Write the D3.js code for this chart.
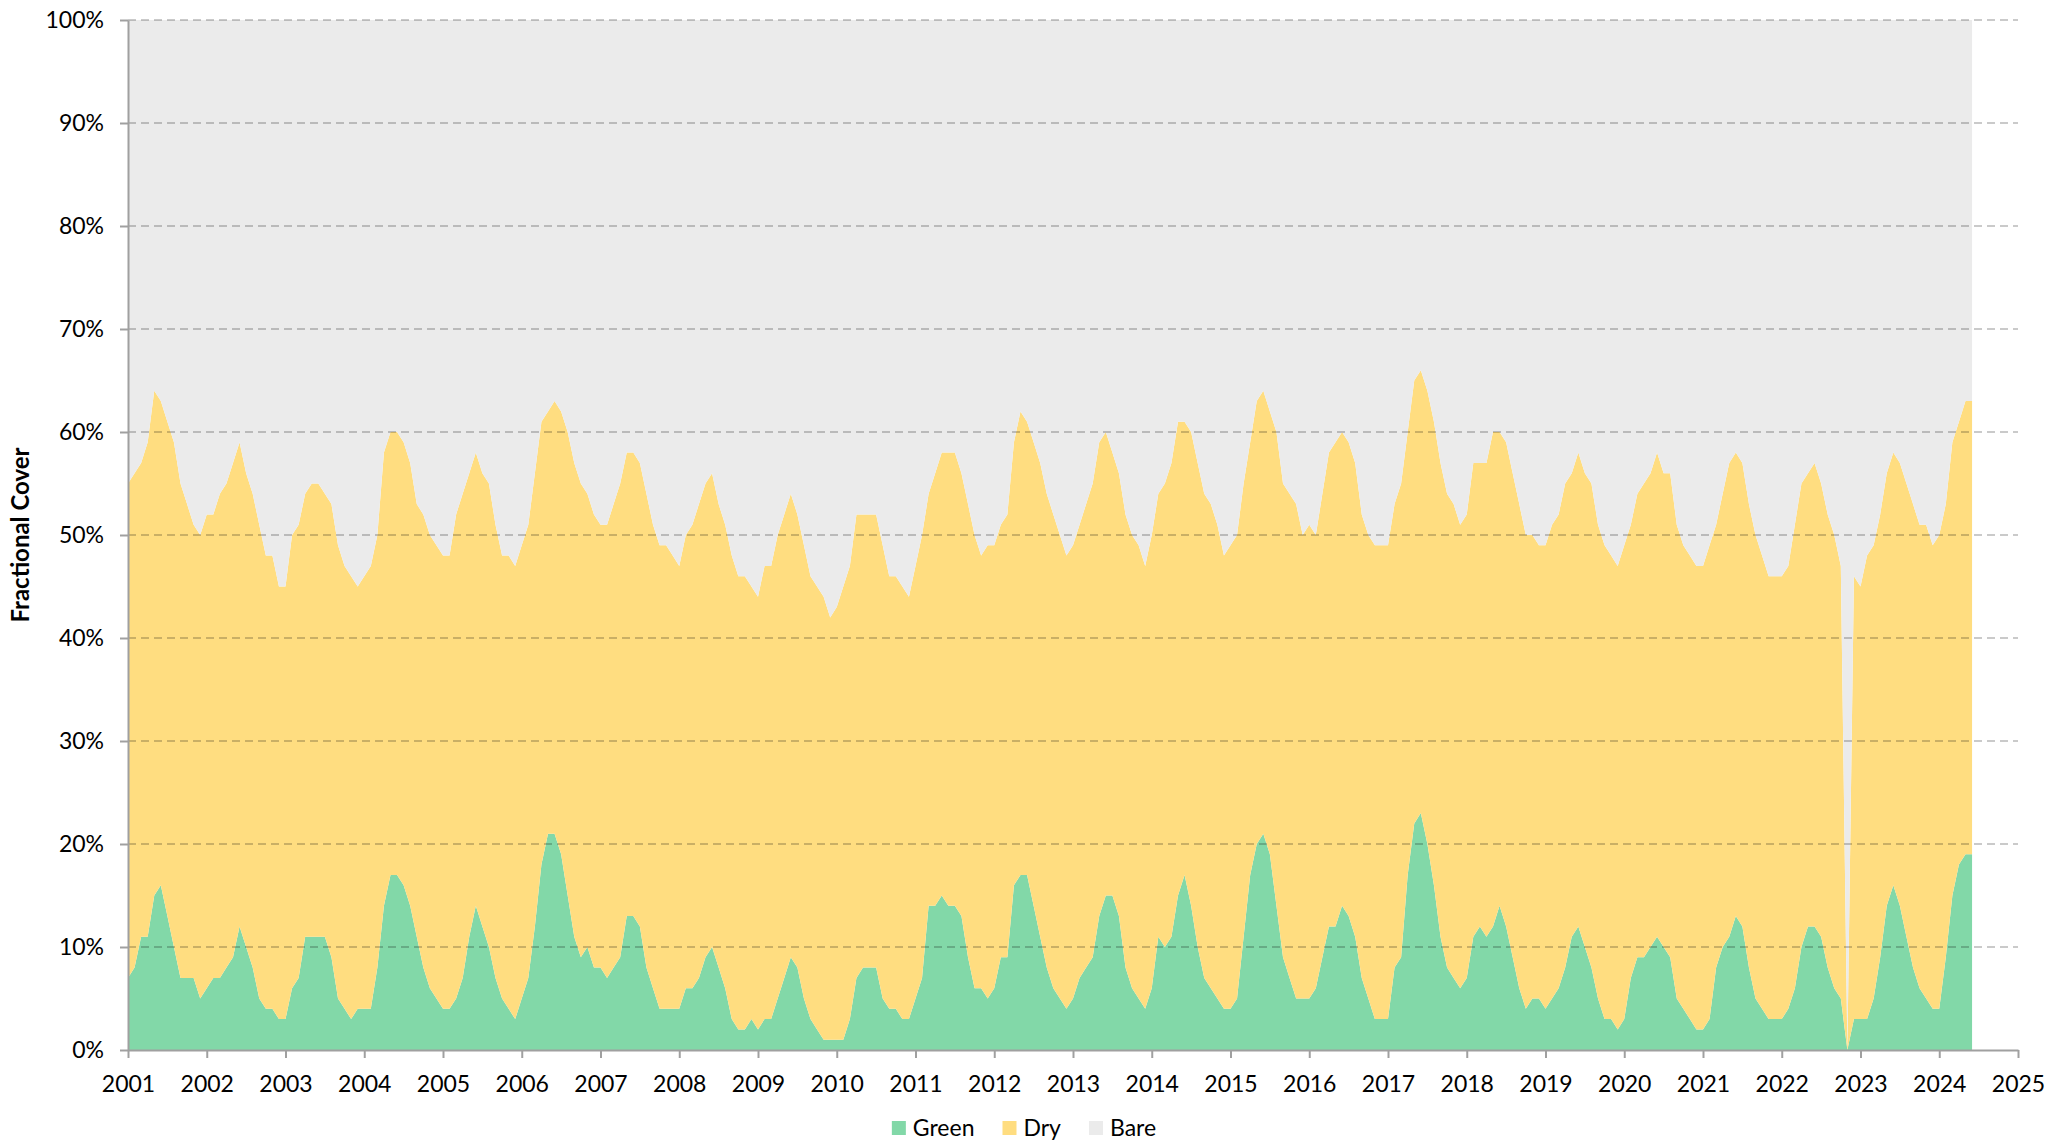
<!DOCTYPE html>
<html>
<head>
<meta charset="utf-8">
<script src="https://cdn.jsdelivr.net/npm/d3@7"></script>
<style>
	body { margin: 0; background: #fff; }
	text { font-family: Lato, "Open Sans", sans-serif; fill: #000; }
</style>
</head>
<body>
<div id="chart"></div>
<script>

// monthly series, starting January 2001
var startYear = 2001
var years = d3.range(2001, 2026)
var yTicks = [0, 10, 20, 30, 40, 50, 60, 70, 80, 90, 100]
var seriesNames = ['Green', 'Dry', 'Bare']
var seriesColors = ['#82d8a8', '#ffdd80', '#ebebeb']

var green = [
	7,8,11,11,15,16,13,10,7,7,7,5,       // 2001
	6,7,7,8,9,12,10,8,5,4,4,3,           // 2002
	3,6,7,11,11,11,11,9,5,4,3,4,         // 2003
	4,4,8,14,17,17,16,14,11,8,6,5,       // 2004
	4,4,5,7,11,14,12,10,7,5,4,3,         // 2005
	5,7,12,18,21,21,19,15,11,9,10,8,     // 2006
	8,7,8,9,13,13,12,8,6,4,4,4,          // 2007
	4,6,6,7,9,10,8,6,3,2,2,3,            // 2008
	2,3,3,5,7,9,8,5,3,2,1,1,             // 2009
	1,1,3,7,8,8,8,5,4,4,3,3,             // 2010
	5,7,14,14,15,14,14,13,9,6,6,5,       // 2011
	6,9,9,16,17,17,14,11,8,6,5,4,        // 2012
	5,7,8,9,13,15,15,13,8,6,5,4,         // 2013
	6,11,10,11,15,17,14,10,7,6,5,4,      // 2014
	4,5,11,17,20,21,19,14,9,7,5,5,       // 2015
	5,6,9,12,12,14,13,11,7,5,3,3,        // 2016
	3,8,9,17,22,23,20,16,11,8,7,6,       // 2017
	7,11,12,11,12,14,12,9,6,4,5,5,       // 2018
	4,5,6,8,11,12,10,8,5,3,3,2,          // 2019
	3,7,9,9,10,11,10,9,5,4,3,2,          // 2020
	2,3,8,10,11,13,12,8,5,4,3,3,         // 2021
	3,4,6,10,12,12,11,8,6,5,0,3,         // 2022
	3,3,5,9,14,16,14,11,8,6,5,4,         // 2023
	4,9,15,18,19,19                      // 2024
]

var dry = [
	48,48,46,48,49,47,48,49,48,46,44,45, // 2001
	46,45,47,47,48,47,46,46,46,44,44,42, // 2002
	42,44,44,43,44,44,43,44,44,43,43,41, // 2003
	42,43,42,44,43,43,43,43,42,44,44,44, // 2004
	44,44,47,47,45,44,44,45,44,43,44,44, // 2005
	44,44,44,43,41,42,43,45,46,46,44,44, // 2006
	43,44,45,46,45,45,45,46,45,45,45,44, // 2007
	43,44,45,46,46,46,45,45,45,44,44,42, // 2008
	42,44,44,45,45,45,44,44,43,43,43,41, // 2009
	42,44,44,45,44,44,44,44,42,42,42,41, // 2010
	42,43,40,42,43,44,44,43,44,44,42,44, // 2011
	43,42,43,43,45,44,45,46,46,46,45,44, // 2012
	44,44,45,46,46,45,43,43,44,44,44,43, // 2013
	44,43,45,46,46,44,46,47,47,47,46,44, // 2014
	45,45,44,42,43,43,43,46,46,47,48,45, // 2015
	46,44,45,46,47,46,46,46,45,45,46,46, // 2016
	46,45,46,43,43,43,44,45,46,46,46,45, // 2017
	45,46,45,46,48,46,47,47,47,46,45,44, // 2018
	45,46,46,47,45,46,46,47,46,46,45,45, // 2019
	46,44,45,46,46,47,46,47,46,45,45,45, // 2020
	45,46,43,44,46,45,45,45,45,44,43,43, // 2021
	43,43,45,45,44,45,44,44,44,42,0,43,  // 2022
	42,45,44,43,42,42,43,44,45,45,46,45, // 2023
	46,44,44,43,44,44                    // 2024
]

var margin = {
	'top' : 20,
	'right' : 51,
	'bottom' : 94,
	'left' : 128
}
var chartW = 2069
var chartH = 1144
var w = chartW - margin.left - margin.right
var h = chartH - margin.top - margin.bottom

// bare is whatever is left to 100%
var rows = green.map(function(g, i) {
	return {
		'date' : startYear + i / 12,
		'Green' : g,
		'Dry' : dry[i],
		'Bare' : 100 - g - dry[i]
	}
})

var stacked = d3.stack().keys(seriesNames)(rows)

var xScale = d3.scaleLinear()
	.domain([years[0], years[years.length - 1]])
	.range([0, w])

var yScale = d3.scaleLinear()
	.domain([0, 100])
	.range([h, 0])

var color = d3.scaleOrdinal()
	.domain(seriesNames)
	.range(seriesColors)

var shell = d3.select('#chart')
	.append('svg')
	.attr('width', chartW)
	.attr('height', chartH)

var chartBody = shell.append('g')
	.attr('transform', 'translate(' + margin.left + ',' + margin.top + ')')

var area = d3.area()
	.x(function(d) { return xScale(d.data.date) })
	.y0(function(d) { return yScale(d[0]) })
	.y1(function(d) { return yScale(d[1]) })

chartBody.selectAll('.layer')
	.data(stacked)
	.enter()
	.append('path')
	.attr('class', 'layer')
	.attr('fill', function(d) { return color(d.key) })
	.attr('d', area)

// dashed gridlines sit on top of the areas
chartBody.selectAll('.grid')
	.data(yTicks.filter(function(t) { return t > 0 }))
	.enter()
	.append('line')
	.attr('class', 'grid')
	.attr('x1', 0)
	.attr('x2', w)
	.attr('y1', function(d) { return yScale(d) })
	.attr('y2', function(d) { return yScale(d) })
	.attr('stroke', 'rgba(0,0,0,0.28)')
	.attr('stroke-width', 1.5)
	.attr('stroke-dasharray', '8,5')

var xAxis = chartBody.append('g')
	.attr('transform', 'translate(0,' + h + ')')
	.call(d3.axisBottom(xScale)
		.tickValues(years)
		.tickFormat(d3.format('d'))
		.tickSize(8)
		.tickSizeOuter(0)
		.tickPadding(18))

var yAxis = chartBody.append('g')
	.call(d3.axisLeft(yScale)
		.tickValues(yTicks)
		.tickFormat(function(d) { return d + '%' })
		.tickSize(8)
		.tickSizeOuter(0)
		.tickPadding(16))

shell.selectAll('.domain, .tick line')
	.attr('stroke', '#a0a0a0')
	.attr('stroke-width', 2)

shell.selectAll('.tick text')
	.attr('fill', '#000')
	.style('font-size', '23px')
	.style('font-family', 'Lato, "Open Sans", sans-serif')

shell.append('text')
	.attr('transform', 'translate(29,' + (margin.top + h / 2) + ') rotate(-90)')
	.attr('text-anchor', 'middle')
	.style('font-size', '24px')
	.style('font-weight', 'bold')
	.text('Fractional Cover')

// legend, centred under the chart
var legend = shell.append('g')
	.attr('class', 'legend')

var items = legend.selectAll('g')
	.data(seriesNames)
	.enter()
	.append('g')

items.append('rect')
	.attr('width', 14)
	.attr('height', 14)
	.attr('y', -14)
	.attr('fill', function(d) { return color(d) })

items.append('text')
	.attr('x', 21)
	.attr('y', 1)
	.style('font-size', '23px')
	.text(function(d) { return d })

var offset = 0
items.each(function() {
	var _this = d3.select(this)
	_this.attr('transform', 'translate(' + offset + ',0)')
	offset += 21 + _this.select('text').node().getComputedTextLength() + 28
})
offset -= 28
legend.attr('transform', 'translate(' + (1024 - offset / 2) + ',1135)')

</script>
</body>
</html>
